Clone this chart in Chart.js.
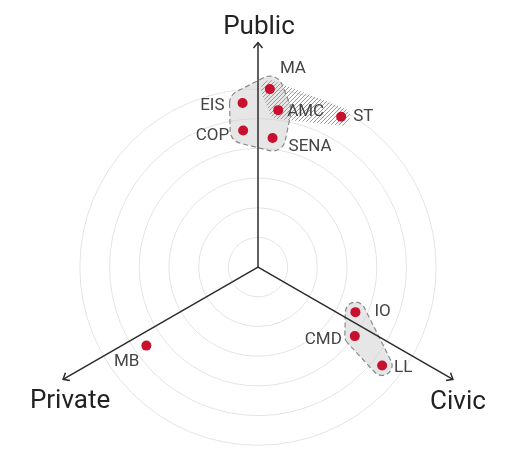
<!DOCTYPE html>
<html>
<head>
<meta charset="utf-8">
<script src="https://cdn.jsdelivr.net/npm/chart.js@4/dist/chart.umd.min.js"></script>
<style>
  html, body { margin: 0; padding: 0; background: #fff; }
  #wrap { width: 516px; height: 451px; }
</style>
</head>
<body>
<div id="wrap"><canvas id="c" width="516" height="451"></canvas></div>
<script>
// Positions of each initiative in the plane (1 unit = one ring spacing)
const pointNames = ['MA', 'EIS', 'AMC', 'ST', 'COP', 'SENA', 'IO', 'CMD', 'LL', 'MB'];
const pointX = [0.40, -0.52, 0.68, 2.80, -0.50, 0.49, 3.28, 3.26, 4.18, -3.76];
const pointY = [6.01, 5.54, 5.30, 5.08, 4.61, 4.36, -1.52, -2.33, -3.32, -2.65];

// The three sector axes
const axisNames = ['Public', 'Private', 'Civic'];
const axisAngles = [90, 210, 330];
const axisLength = 7.58;

// Concentric guide rings
const ringRadii = [1, 2, 3, 4, 5, 6];

// Groupings
const clusterPublic = ['MA', 'EIS', 'AMC', 'COP', 'SENA'];
const clusterCivic = ['IO', 'CMD', 'LL'];
const hatchedGroup = ['MA', 'AMC', 'ST'];

// ---- styling ----
const RED = '#c8102e';
const labelOffsets = {
  MA: [10, -16, 'left'], EIS: [-18, 7, 'right'], AMC: [9, 6, 'left'],
  ST: [12, 4, 'left'], COP: [-14, 9, 'right'], SENA: [16, 13, 'left'],
  IO: [19, 4, 'left'], CMD: [-13, 8, 'right'], LL: [12, 7, 'left'],
  MB: [-7, 20, 'right']
};
const titleOffsets = { Public: [1, -9], Private: [7, 29], Civic: [5, 30] };

function px(chart, x, y) {
  return { x: chart.scales.x.getPixelForValue(x), y: chart.scales.y.getPixelForValue(y) };
}

function groupPixels(chart, names) {
  return names.map(n => {
    const i = pointNames.indexOf(n);
    return px(chart, pointX[i], pointY[i]);
  });
}

// Convex hull (monotone chain)
function hull(pts) {
  const p = pts.slice().sort((a, b) => a.x - b.x || a.y - b.y);
  if (p.length < 3) return p;
  const cross = (o, a, b) => (a.x - o.x) * (b.y - o.y) - (a.y - o.y) * (b.x - o.x);
  const lower = [], upper = [];
  for (const q of p) {
    while (lower.length >= 2 && cross(lower[lower.length - 2], lower[lower.length - 1], q) <= 0) lower.pop();
    lower.push(q);
  }
  for (let i = p.length - 1; i >= 0; i--) {
    const q = p[i];
    while (upper.length >= 2 && cross(upper[upper.length - 2], upper[upper.length - 1], q) <= 0) upper.pop();
    upper.push(q);
  }
  upper.pop(); lower.pop();
  let h = lower.concat(upper);
  let area = 0;
  for (let i = 0; i < h.length; i++) {
    const a = h[i], b = h[(i + 1) % h.length];
    area += a.x * b.y - b.x * a.y;
  }
  if (area < 0) h.reverse();
  return h;
}

// Rounded envelope around a group of points
function envelopePath(ctx, pts, pad) {
  const h = hull(pts);
  ctx.beginPath();
  const n = h.length;
  for (let i = 0; i < n; i++) {
    const prev = h[(i - 1 + n) % n], v = h[i], next = h[(i + 1) % n];
    const a1 = Math.atan2(-(v.x - prev.x), (v.y - prev.y));
    let a2 = Math.atan2(-(next.x - v.x), (next.y - v.y));
    while (a2 < a1) a2 += Math.PI * 2;
    ctx.arc(v.x, v.y, pad, a1, a2, false);
  }
  ctx.closePath();
}

const backdrop = {
  id: 'backdrop',
  beforeDatasetsDraw(chart) {
    const ctx = chart.ctx;
    const c = px(chart, 0, 0);
    const unit = chart.scales.x.getPixelForValue(1) - c.x;
    ctx.save();

    // rings
    ctx.strokeStyle = '#e4e4e4';
    ctx.lineWidth = 1;
    ringRadii.forEach(r => {
      ctx.beginPath();
      ctx.arc(c.x, c.y, r * unit, 0, Math.PI * 2);
      ctx.stroke();
    });

    // cluster fills
    const pubPts = groupPixels(chart, clusterPublic);
    const civPts = groupPixels(chart, clusterCivic);
    ctx.fillStyle = 'rgba(205,205,205,0.5)';
    envelopePath(ctx, pubPts, 13); ctx.fill();
    envelopePath(ctx, civPts, 10); ctx.fill();

    // hatched band
    ctx.save();
    envelopePath(ctx, groupPixels(chart, hatchedGroup), 9);
    ctx.clip();
    ctx.strokeStyle = '#9a9a9a';
    ctx.lineWidth = 1;
    ctx.beginPath();
    for (let k = -200; k < 600; k += 4) {
      ctx.moveTo(k, 160);
      ctx.lineTo(k + 160, 0);
    }
    ctx.stroke();
    ctx.restore();

    // dashed outlines
    ctx.setLineDash([5, 3]);
    ctx.strokeStyle = '#8a8a8a';
    ctx.lineWidth = 1.2;
    envelopePath(ctx, pubPts, 13); ctx.stroke();
    envelopePath(ctx, civPts, 10); ctx.stroke();
    ctx.setLineDash([]);

    // axes with arrow heads
    ctx.strokeStyle = '#2b2b2b';
    ctx.lineWidth = 1.5;
    axisAngles.forEach(deg => {
      const t = deg * Math.PI / 180;
      const tip = px(chart, axisLength * Math.cos(t), axisLength * Math.sin(t));
      ctx.beginPath();
      ctx.moveTo(c.x, c.y);
      ctx.lineTo(tip.x, tip.y);
      ctx.stroke();
      const ang = Math.atan2(tip.y - c.y, tip.x - c.x);
      const L = 7, spread = 0.7;
      ctx.beginPath();
      ctx.moveTo(tip.x - L * Math.cos(ang - spread), tip.y - L * Math.sin(ang - spread));
      ctx.lineTo(tip.x, tip.y);
      ctx.lineTo(tip.x - L * Math.cos(ang + spread), tip.y - L * Math.sin(ang + spread));
      ctx.stroke();
    });
    ctx.restore();
  },
  afterDatasetsDraw(chart) {
    const ctx = chart.ctx;
    ctx.save();
    ctx.textBaseline = 'alphabetic';

    // point labels
    ctx.font = '17px Roboto';
    ctx.fillStyle = '#444';
    pointNames.forEach((n, i) => {
      const p = px(chart, pointX[i], pointY[i]);
      const o = labelOffsets[n];
      ctx.textAlign = o[2];
      ctx.fillText(n, p.x + o[0], p.y + o[1]);
    });

    // axis titles
    ctx.font = '26px Roboto';
    ctx.fillStyle = '#222';
    ctx.textAlign = 'center';
    axisNames.forEach((name, i) => {
      const t = axisAngles[i] * Math.PI / 180;
      const tip = px(chart, axisLength * Math.cos(t), axisLength * Math.sin(t));
      const o = titleOffsets[name];
      ctx.fillText(name, tip.x + o[0], tip.y + o[1]);
    });
    ctx.restore();
  }
};

new Chart(document.getElementById('c'), {
  type: 'scatter',
  data: {
    datasets: [{
      data: pointX.map((x, i) => ({ x, y: pointY[i] })),
      backgroundColor: RED,
      borderColor: RED,
      pointRadius: 5,
      pointBorderWidth: 0
    }]
  },
  options: {
    responsive: false,
    animation: false,
    devicePixelRatio: 1,
    layout: { padding: 0 },
    plugins: { legend: { display: false }, tooltip: { enabled: false } },
    scales: {
      x: { type: 'linear', min: -8.52, max: 8.52, display: false },
      y: { type: 'linear', min: -6.04, max: 8.85, display: false }
    }
  },
  plugins: [backdrop]
});
</script>
</body>
</html>
